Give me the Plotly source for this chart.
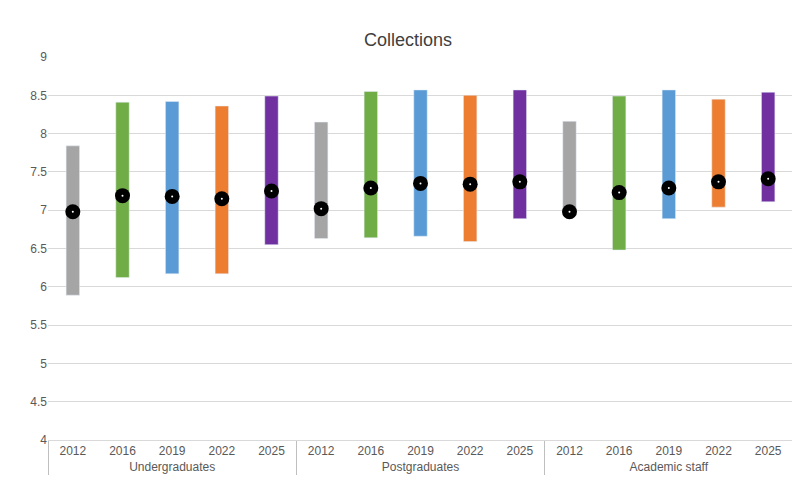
import plotly.graph_objects as go

groups = ["Undergraduates"] * 5 + ["Postgraduates"] * 5 + ["Academic staff"] * 5
years = ["2012", "2016", "2019", "2022", "2025"] * 3
highs = [7.84, 8.41, 8.42, 8.36, 8.49, 8.15, 8.55, 8.57, 8.50, 8.57, 8.16, 8.49, 8.57, 8.45, 8.54]
lows = [5.89, 6.12, 6.17, 6.17, 6.55, 6.63, 6.64, 6.66, 6.59, 6.89, 7.00, 6.48, 6.89, 7.04, 7.11]
means = [6.98, 7.19, 7.18, 7.15, 7.25, 7.02, 7.29, 7.35, 7.34, 7.37, 6.98, 7.23, 7.29, 7.37, 7.41]
year_colors = {"2012": "#A5A5A5", "2016": "#70AD47", "2019": "#5B9BD5", "2022": "#ED7D31", "2025": "#7030A0"}

fig = go.Figure()
fig.add_trace(go.Bar(
    x=[groups, years], y=[h - l for h, l in zip(highs, lows)], base=lows,
    marker_color=[year_colors[y] for y in years], width=0.27, showlegend=False,
))
fig.add_trace(go.Scatter(
    x=[groups, years], y=means, mode="markers",
    marker=dict(color="black", size=15), showlegend=False,
))
fig.add_trace(go.Scatter(
    x=[groups, years], y=means, mode="markers",
    marker=dict(color="white", size=2), showlegend=False,
))

fig.update_layout(
    width=800, height=501,
    title=dict(text="Collections", x=0.5, y=0.95, font=dict(size=18, color="#404040")),
    font=dict(family="Liberation Sans, Arial", size=12, color="#595959"),
    plot_bgcolor="white", paper_bgcolor="white",
    margin=dict(l=40, r=15, t=49, b=69),
)
fig.update_yaxes(range=[4, 9], dtick=0.5, gridcolor="#D9D9D9", zeroline=False,
                 showline=False, tickfont=dict(size=12))
fig.update_xaxes(range=[-0.5, 14.5], showline=True, linecolor="#D9D9D9", showdividers=True,
                 dividercolor="#BFBFBF", tickfont=dict(size=12))
fig.write_html("out.html")
